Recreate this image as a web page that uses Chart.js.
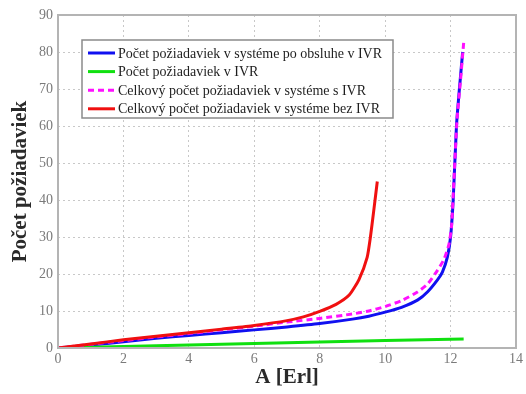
<!DOCTYPE html>
<html>
<head>
<meta charset="utf-8">
<script src="https://cdn.jsdelivr.net/npm/chart.js@4/dist/chart.umd.min.js"></script>
<style>
  html, body { margin: 0; padding: 0; background: #fff; overflow: hidden; }
  #wrap { width: 526px; height: 394px; }
</style>
</head>
<body>
<div id="wrap"><canvas id="graf"></canvas></div>
<script>
// hodnoty odčítané z obrázka
const xModra = [0, 1, 2, 3, 4, 5, 6, 7, 8, 9, 9.5, 10, 10.5, 11, 11.3, 11.6, 11.75, 11.9, 12.0, 12.08, 12.18, 12.27, 12.37];
const yModra = [0, 0.8, 1.7, 2.6, 3.4, 4.1, 4.9, 5.7, 6.6, 7.8, 8.6, 9.7, 11.0, 13.0, 15.2, 18.4, 20.5, 24.5, 30, 40, 60, 70, 80];

const xZelena = [0, 2, 4, 6, 8, 10, 12.4];
const yZelena = [0, 0.4, 0.8, 1.2, 1.6, 2.0, 2.4];

const xFialova = [0, 1, 2, 3, 4, 5, 6, 7, 8, 9, 9.5, 10, 10.5, 11, 11.3, 11.6, 11.8, 11.95, 12.03, 12.1, 12.2, 12.3, 12.4];
const yFialova = [0, 1.0, 2.0, 3.0, 3.9, 4.9, 5.9, 7.0, 8.0, 9.2, 10.0, 11.2, 12.8, 15.2, 17.3, 21, 24, 28, 33, 45, 62, 72, 82.5];

const xCervena = [0, 1, 2, 3, 4, 5, 6, 7, 7.5, 8, 8.5, 8.9, 9.2, 9.45, 9.55, 9.65, 9.76];
const yCervena = [0, 1.1, 2.2, 3.2, 4.1, 5.1, 6.1, 7.4, 8.4, 9.9, 11.8, 14.3, 18.5, 24.5, 30, 37, 45];

const nazvy = [
  'Počet požiadaviek v systéme po obsluhe v IVR',
  'Počet požiadaviek v IVR',
  'Celkový počet požiadaviek v systéme s IVR',
  'Celkový počet požiadaviek v systéme bez IVR'
];

const xTicky = [0, 2, 4, 6, 8, 10, 12, 14];
const yTicky = [0, 10, 20, 30, 40, 50, 60, 70, 80, 90];

function body(xs, ys) {
  return xs.map((x, i) => ({ x: x, y: ys[i] }));
}

const serif = '"Liberation Serif", "DejaVu Serif", serif';

// ramik okolo grafu a legenda vo vnutri
const ramikALegenda = {
  id: 'ramikALegenda',
  afterDatasetsDraw(chart) {
    const { ctx, chartArea: a } = chart;
    ctx.save();
    ctx.strokeStyle = '#b4b4b4';
    ctx.lineWidth = 2;
    ctx.strokeRect(a.left, a.top, a.right - a.left, a.bottom - a.top);

    const lx = 82, ly = 40, lw = 311, lh = 78;
    ctx.fillStyle = '#fff';
    ctx.fillRect(lx, ly, lw, lh);
    ctx.strokeStyle = '#8a8a8a';
    ctx.lineWidth = 1.5;
    ctx.strokeRect(lx, ly, lw, lh);

    ctx.font = '14px ' + serif;
    ctx.textBaseline = 'middle';
    chart.data.datasets.forEach((ds, i) => {
      const yy = 53 + i * 18.6;
      ctx.strokeStyle = ds.borderColor;
      ctx.lineWidth = 3;
      ctx.setLineDash(ds.borderDash || []);
      ctx.beginPath();
      ctx.moveTo(88, yy);
      ctx.lineTo(115, yy);
      ctx.stroke();
      ctx.setLineDash([]);
      ctx.fillStyle = '#1e1e1e';
      ctx.fillText(ds.label, 118, yy + 1);
    });
    ctx.restore();
  }
};

new Chart(document.getElementById('graf'), {
  type: 'scatter',
  data: {
    datasets: [
      { label: nazvy[0], data: body(xModra, yModra), borderColor: '#1010f0', order: 3 },
      { label: nazvy[1], data: body(xZelena, yZelena), borderColor: '#10e010', order: 2 },
      { label: nazvy[2], data: body(xFialova, yFialova), borderColor: '#ff10ff', borderDash: [6, 4], order: 1 },
      { label: nazvy[3], data: body(xCervena, yCervena), borderColor: '#f01010', order: 0 }
    ].map(d => Object.assign({
      showLine: true,
      borderWidth: 3,
      pointRadius: 0,
      tension: 0.2,
      fill: false
    }, d))
  },
  options: {
    responsive: true,
    maintainAspectRatio: false,
    animation: false,
    layout: { padding: { top: 15, right: 8, left: 0, bottom: 0 } },
    plugins: {
      legend: { display: false },
      tooltip: { enabled: false }
    },
    scales: {
      x: {
        type: 'linear',
        min: 0,
        max: 14,
        afterBuildTicks: s => { s.ticks = xTicky.map(v => ({ value: v })); },
        afterFit: s => { s.height = 46; },
        grid: { color: '#c8c8c8', lineWidth: 1, drawTicks: false },
        border: { display: false, dash: [2, 3] },
        ticks: { color: '#7a7a7a', padding: 3, font: { family: serif, size: 14 }, maxRotation: 0 },
        title: {
          display: true,
          text: 'A [Erl]',
          color: '#2a2a2a',
          font: { family: serif, size: 21, weight: 'bold' },
          padding: { top: 0, bottom: 4 }
        }
      },
      y: {
        min: 0,
        max: 90,
        afterBuildTicks: s => { s.ticks = yTicky.map(v => ({ value: v })); },
        afterFit: s => { s.width = 58; },
        grid: { color: '#c8c8c8', lineWidth: 1, drawTicks: false },
        border: { display: false, dash: [2, 3] },
        ticks: { color: '#7a7a7a', padding: 5, font: { family: serif, size: 14 } },
        title: {
          display: true,
          text: 'Počet požiadaviek',
          color: '#2a2a2a',
          font: { family: serif, size: 21, weight: 'bold' },
          padding: { top: 8, bottom: 0 }
        }
      }
    }
  },
  plugins: [ramikALegenda]
});
</script>
</body>
</html>
